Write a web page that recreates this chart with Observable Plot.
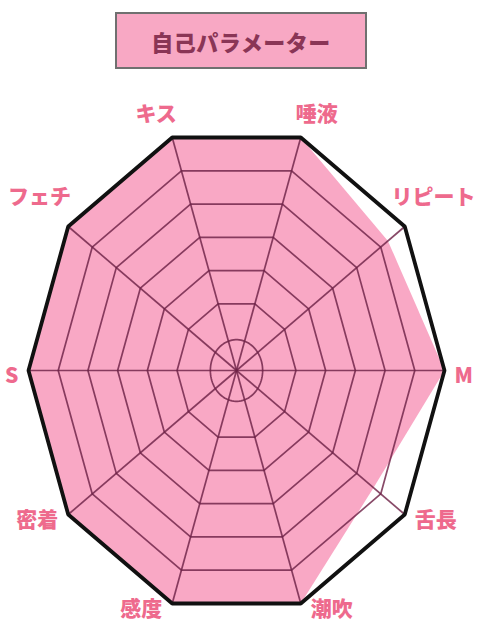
<!DOCTYPE html>
<html><head><meta charset="utf-8">
<script src="https://cdn.jsdelivr.net/npm/d3@7"></script>
<script src="https://cdn.jsdelivr.net/npm/@observablehq/plot@0.6"></script>
<style>
body{margin:0;background:#fff;font-family:"Noto Sans CJK JP","Noto Sans",sans-serif;}
#title{box-sizing:border-box;margin:12px 0 11px 115px;width:252px;height:57px;background:#F8A8C4;border:2px solid #707070;color:#8A3556;font-weight:900;font-size:22px;display:flex;align-items:center;justify-content:center;letter-spacing:0.5px;}
#chart svg{display:block;}
</style></head><body>
<div id="title"></div>
<div id="chart"></div>
<script>
const title = "自己パラメーター";
const axes = ["キス","唾液","リピート","M","舌長","潮吹","感度","密着","S","フェチ"];
const values = [7, 7, 6.3, 7, 5.7, 7, 7, 7, 7, 7];
const maxLevel = 7;

document.getElementById("title").textContent = title;

const n = axes.length;
const angle = i => (108 - 360 / n * i) * Math.PI / 180;
const pt = (i, r) => ({x: r / maxLevel * Math.cos(angle(i)), y: r / maxLevel * Math.sin(angle(i))});

const dataPts = values.map((v, i) => ({axis: axes[i], ...pt(i, v)}));
const rings = d3.range(2, maxLevel + 1).flatMap(l => axes.map((a, i) => ({level: l, ...pt(i, l)})));
const innerR = 0.88 / maxLevel;
const ellipse = d3.range(90).map(k => ({x: innerR * Math.cos(k * 4 * Math.PI / 180), y: innerR * Math.sin(k * 4 * Math.PI / 180)}));
const spokes = axes.map((a, i) => ({axis: a, ...pt(i, maxLevel)}));
const labels = axes.map((a, i) => ({axis: a, c: Math.cos(angle(i)), s: Math.sin(angle(i))}));

const labelFont = {fontSize: 21, fontWeight: 900, fill: "#EE6A8D", fontFamily: "Noto Sans CJK JP, sans-serif", text: "axis"};
const gridStyle = {stroke: "#6e2247", strokeOpacity: 0.82, strokeWidth: 1.7};

const chart = Plot.plot({
  width: 480, height: 560,
  marginLeft: 28, marginRight: 36, marginTop: 45, marginBottom: 25,
  x: {domain: [-1, 1], axis: null},
  y: {domain: [-1, 1], axis: null},
  marks: [
    Plot.line(dataPts, {x: "x", y: "y", curve: "linear-closed", fill: "#F9A8C5", stroke: "none"}),
    Plot.line(rings, {x: "x", y: "y", z: "level", curve: "linear-closed", ...gridStyle}),
    Plot.line(ellipse, {x: "x", y: "y", curve: "linear-closed", ...gridStyle}),
    Plot.link(spokes, {x1: d => 0, y1: d => 0, x2: "x", y2: "y", ...gridStyle}),
    Plot.line(spokes, {x: "x", y: "y", curve: "linear-closed", stroke: "#111", strokeWidth: 3.8, strokeLinejoin: "miter"}),
    Plot.text(labels.filter(d => d.s > 0.9), {x: d => d.c * 1.25, y: d => d.s * 1.1, textAnchor: "middle", ...labelFont}),
    Plot.text(labels.filter(d => d.s > 0.5 && d.s <= 0.9), {x: d => d.c * 1.17, y: d => d.s * 1.2, textAnchor: "middle", ...labelFont}),
    Plot.text(labels.filter(d => d.s <= 0.5 && d.c > 0), {x: "c", y: "s", textAnchor: "start", dx: 10, dy: 6, ...labelFont}),
    Plot.text(labels.filter(d => d.s <= 0.5 && d.c < 0), {x: "c", y: "s", textAnchor: "end", dx: -10, dy: 6, ...labelFont})
  ]
});
document.getElementById("chart").appendChild(chart);
</script>
</body></html>
